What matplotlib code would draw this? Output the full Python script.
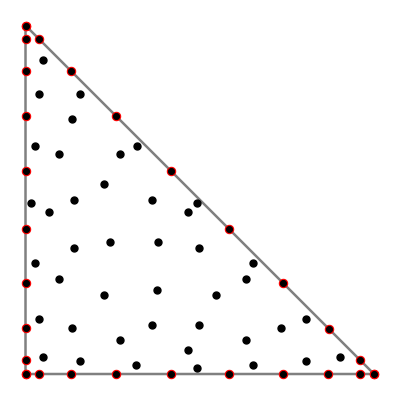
import numpy as np
import matplotlib
matplotlib.use('Agg')
import matplotlib.pyplot as plt

# node positions along one edge
edge_t = [0.0, 0.0396, 0.1297, 0.2597, 0.4166, 0.5839, 0.7398, 0.8689, 0.9606, 1.0]

# interior points
inner_x = [0.0494, 0.0387, 0.1572, 0.1334, 0.0273, 0.0970, 0.2720, 0.3185, 0.2261,
           0.0166, 0.1400, 0.3621, 0.4921, 0.0683, 0.4654, 0.2425, 0.3788, 0.1400,
           0.4964, 0.0264, 0.0970, 0.2261, 0.3782, 0.6537, 0.6318, 0.5458, 0.0379,
           0.1334, 0.3621, 0.4964, 0.2720, 0.4654, 0.0494, 0.1572, 0.3180, 0.4912,
           0.8040, 0.7331, 0.6318, 0.9024, 0.8040, 0.6537]
inner_y = [0.9010, 0.8034, 0.8034, 0.7326, 0.6542, 0.6313, 0.6313, 0.6542, 0.5460,
           0.4907, 0.4993, 0.4993, 0.4915, 0.4648, 0.4648, 0.3779, 0.3779, 0.3607,
           0.3615, 0.3185, 0.2717, 0.2258, 0.2419, 0.3185, 0.2717, 0.2258, 0.1578,
           0.1329, 0.1397, 0.1397, 0.0967, 0.0680, 0.0496, 0.0373, 0.0267, 0.0164,
           0.1578, 0.1329, 0.0967, 0.0496, 0.0373, 0.0267]

t = np.array(edge_t)
bx = np.concatenate([t, 1 - t, np.zeros_like(t)])
by = np.concatenate([np.zeros_like(t), t, 1 - t])

fig = plt.figure(figsize=(4, 4), dpi=100)
ax = fig.add_axes([0, 0, 1, 1])

ax.plot([0, 1, 0, 0], [0, 0, 1, 0], color='gray', lw=1.8, zorder=1)
ax.plot(bx, by, 'o', color='black', mec='red', mew=0.8, ms=6, ls='none', zorder=3)
ax.plot(inner_x, inner_y, 'o', color='black', ms=5, ls='none', zorder=2)

ax.set_xlim(-0.0732, 1.0746)
ax.set_ylim(-0.0746, 1.0732)
ax.axis('off')

fig.savefig('out.png', dpi=100)
